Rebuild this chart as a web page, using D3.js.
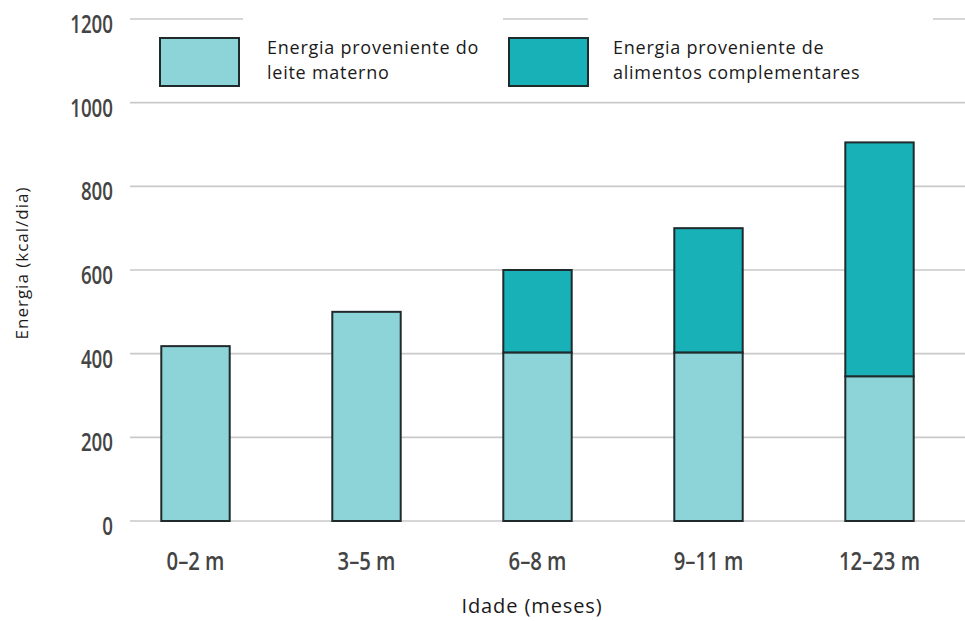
<!DOCTYPE html>
<html>
<head>
<meta charset="utf-8">
<script src="https://cdn.jsdelivr.net/npm/d3@7"></script>
<style>
  body { margin: 0; background: #fff; }
  .tick-label { font-family: "Open Sans", sans-serif; font-size: 26px; font-weight: 600; fill: #444; }
  .legend-text { font-family: "Open Sans", sans-serif; font-size: 18px; letter-spacing: 0.75px; fill: #1a1a1a; }
</style>
</head>
<body>
<div id="chart"></div>
<script>
// data
const ages = ["0–2 m", "3–5 m", "6–8 m", "9–11 m", "12–23 m"];
const milk = [418, 500, 403, 403, 346];
const complementary = [0, 0, 197, 297, 559];
const yTicks = [0, 200, 400, 600, 800, 1000, 1200];
const legendLabels = [
  ["Energia proveniente do", "leite materno"],
  ["Energia proveniente de", "alimentos complementares"]
];
const colors = ["#8dd4d8", "#18b1b8"];

const width = 965, height = 621;

const svg = d3.select("#chart").append("svg")
  .attr("width", width)
  .attr("height", height);

const x = d3.scaleBand()
  .domain(ages)
  .range([110, 965])
  .paddingInner(0.6)
  .paddingOuter(0.3);

const y = d3.scaleLinear()
  .domain([0, 1200])
  .range([521, 19]);

// gridlines
svg.append("g")
  .selectAll("line")
  .data(yTicks)
  .join("line")
  .attr("x1", 130)
  .attr("x2", 965)
  .attr("y1", d => y(d))
  .attr("y2", d => y(d))
  .attr("stroke", "#c9c9c9")
  .attr("stroke-width", 1.6);

// y tick labels (condensed look via scaleX)
svg.append("g")
  .selectAll("text")
  .data(yTicks)
  .join("text")
  .attr("class", "tick-label")
  .attr("transform", d => `translate(113,${y(d) + 14}) scale(0.72,1)`)
  .attr("text-anchor", "end")
  .text(d => d);

// stacked bars
const rows = ages.map((a, i) => ({ age: a, milk: milk[i], complementary: complementary[i] }));
const stack = d3.stack().keys(["milk", "complementary"])(rows);

svg.append("g")
  .selectAll("g")
  .data(stack)
  .join("g")
  .attr("fill", (d, i) => colors[i])
  .selectAll("rect")
  .data(d => d.filter(s => s[1] > s[0]))
  .join("rect")
  .attr("x", d => x(d.data.age))
  .attr("width", x.bandwidth())
  .attr("y", d => y(d[1]))
  .attr("height", d => y(d[0]) - y(d[1]))
  .attr("stroke", "#1e2a2b")
  .attr("stroke-width", 2);

// x labels
svg.append("g")
  .selectAll("text")
  .data(ages)
  .join("text")
  .attr("class", "tick-label")
  .attr("transform", d => `translate(${x(d) + x.bandwidth() / 2},570) scale(0.78,1)`)
  .attr("text-anchor", "middle")
  .text(d => d);

// axis titles
svg.append("text")
  .attr("x", 532)
  .attr("y", 613)
  .attr("text-anchor", "middle")
  .style("font-family", "'Open Sans', sans-serif")
  .style("font-size", "20px")
  .style("letter-spacing", "0.9px")
  .attr("fill", "#1a1a1a")
  .text("Idade (meses)");

svg.append("text")
  .attr("transform", "translate(28,263) rotate(-90)")
  .attr("text-anchor", "middle")
  .style("font-family", "'Open Sans', sans-serif")
  .style("font-size", "17px")
  .style("letter-spacing", "1px")
  .attr("fill", "#1a1a1a")
  .text("Energia (kcal/dia)");

// legend
const legendX = [[243, 503, 160, 267], [588, 933, 509, 613]];
legendLabels.forEach((lines, i) => {
  const [bx0, bx1, sx, tx] = legendX[i];
  svg.append("rect")
    .attr("x", bx0).attr("y", 12)
    .attr("width", bx1 - bx0).attr("height", 14)
    .attr("fill", "#fff");
  svg.append("rect")
    .attr("x", sx).attr("y", 38)
    .attr("width", 79).attr("height", 48)
    .attr("fill", colors[i])
    .attr("stroke", "#1e2a2b")
    .attr("stroke-width", 2);
  const t = svg.append("text").attr("class", "legend-text");
  lines.forEach((l, j) => {
    t.append("tspan").attr("x", tx).attr("y", 54 + j * 25).text(l);
  });
});
</script>
</body>
</html>
